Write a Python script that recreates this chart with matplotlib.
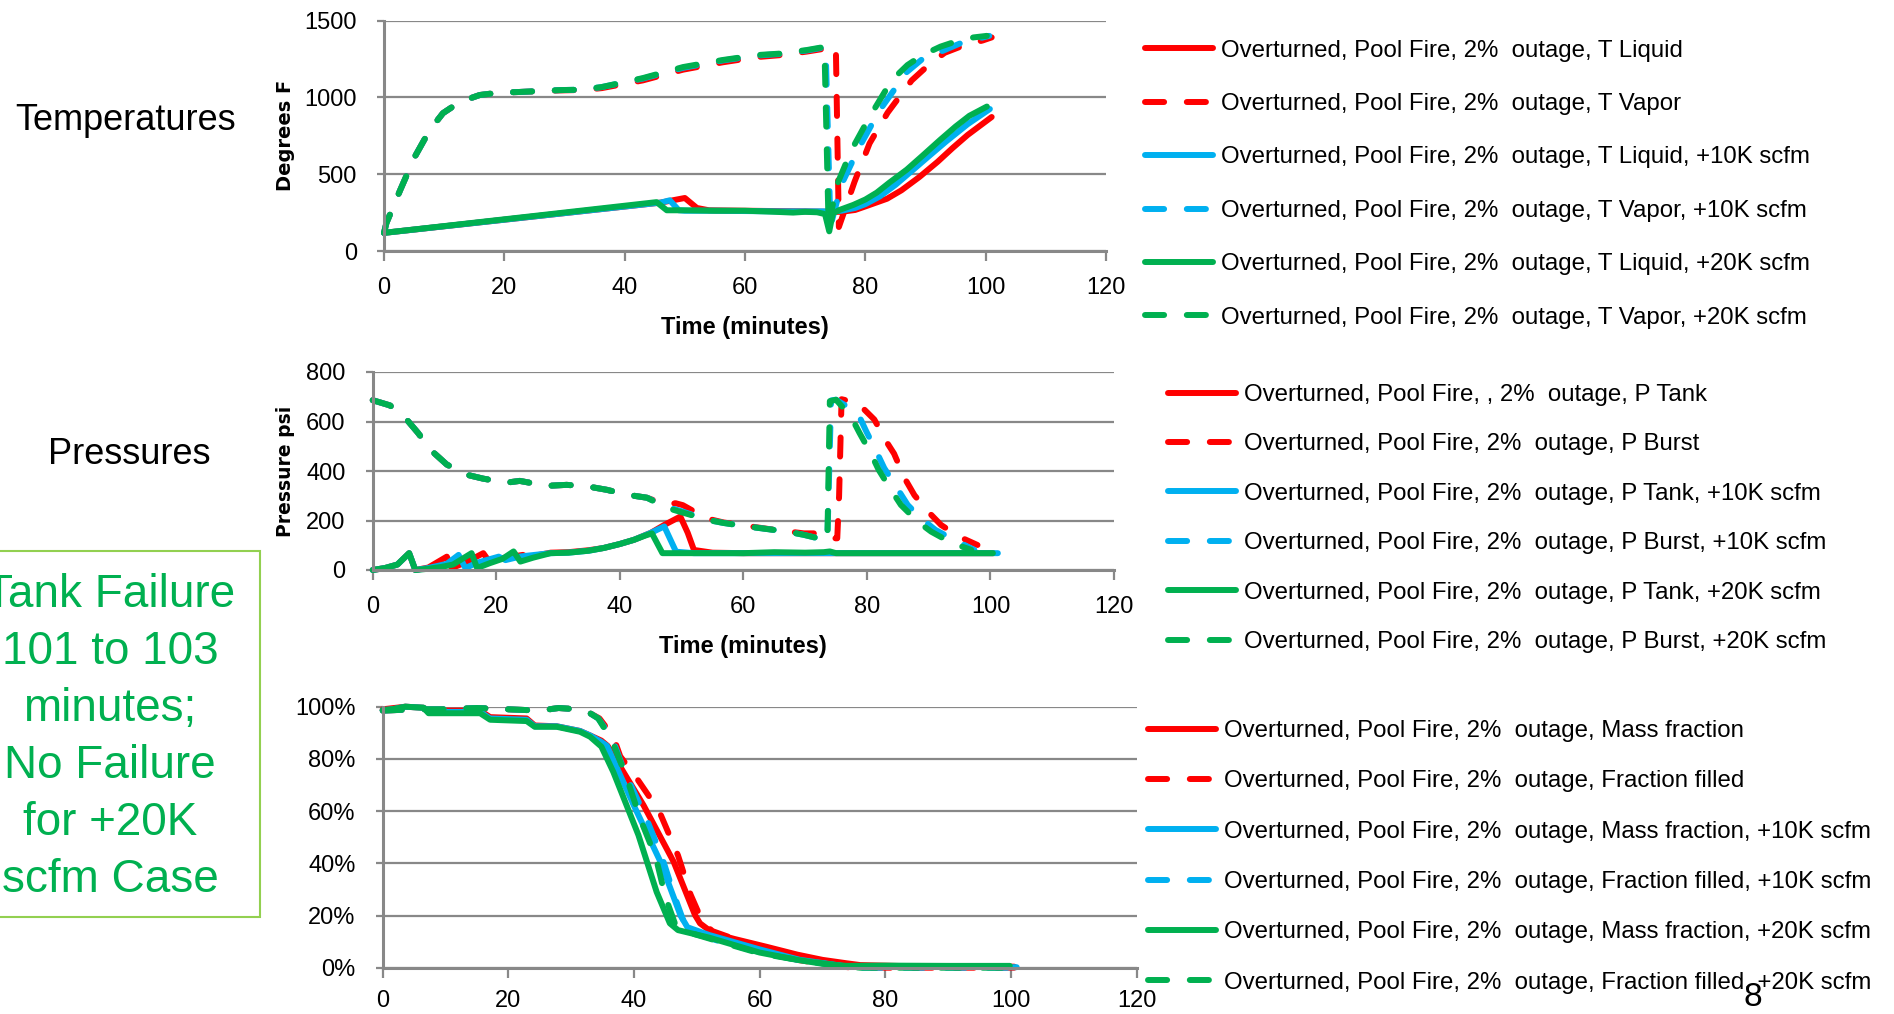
import matplotlib
matplotlib.use("Agg")
import matplotlib.pyplot as plt
from matplotlib.patches import Rectangle
from matplotlib.ticker import PercentFormatter

RED = "#FF0000"
BLUE = "#00B0F0"
GREEN = "#00B050"

# ---- temperatures (deg F) ----
t_tliq_red = [0, 46, 48, 50, 52, 54, 60, 65, 70, 74, 76, 78.3, 80, 83.6, 86, 89, 92, 94.5, 97, 101]
tliq_red = [118, 315, 330, 345, 280, 265, 262, 260, 258, 255, 255, 267, 290, 340, 395, 482, 580, 670, 755, 872]
t_tliq_blue = [0, 46, 47.5, 49, 50, 55, 60, 65, 70, 74, 76, 78.3, 80, 82.4, 85, 87.9, 90.5, 93.5, 97, 100.7]
tliq_blue = [118, 315, 330, 265, 262, 262, 260, 258, 258, 258, 262, 280, 305, 355, 430, 527, 615, 715, 825, 924]
t_tliq_green = [0, 45.3, 47, 50, 55, 60, 63, 65, 68, 70, 72, 73.3, 74, 74.6, 75.7, 78, 80, 81.9, 84, 86.9,
                89.5, 92.4, 95, 97.3, 100.2]
tliq_green = [118, 318, 265, 265, 262, 262, 258, 255, 250, 255, 252, 240, 128, 245, 267, 300, 335, 380, 445, 530,
              620, 722, 810, 880, 940]

t_tvap_red = [0, 0.4, 2.7, 5.1, 7.6, 9.8, 12.6, 15.9, 19, 22.6, 29.2, 33, 36.2, 43, 49.7, 56.3, 62, 66, 70.3, 73,
              75.1, 75.6, 78.2, 80.7, 83.7, 87.7, 90.5, 93.2, 96.5, 99.5, 101]
tvap_red = [118, 182, 397, 612, 787, 897, 970, 1015, 1030, 1035, 1045, 1048, 1060, 1110, 1180, 1228, 1262, 1275,
            1298, 1315, 1325, 156, 450, 700, 900, 1110, 1210, 1290, 1340, 1370, 1390]
t_tvap_blue = [0, 0.4, 2.7, 5.1, 7.6, 9.8, 12.6, 15.9, 19, 22.6, 29.2, 33, 36.2, 43, 49.7, 56.3, 62, 66, 70.3, 73.2,
               73.4, 74.2, 76, 79, 82.4, 86.9, 89.5, 92.4, 96, 100.6]
tvap_blue = [118, 182, 397, 612, 787, 897, 970, 1015, 1030, 1035, 1047, 1050, 1067, 1122, 1192, 1240, 1272, 1283,
             1305, 1325, 1320, 160, 430, 677, 917, 1165, 1250, 1295, 1355, 1400]
t_tvap_green = [0, 0.4, 2.7, 5.1, 7.6, 9.8, 12.6, 15.9, 19, 22.6, 29.2, 33, 36.2, 43, 49.7, 56.3, 62, 66, 70.3, 73.2,
                73.9, 74.3, 75.4, 77.7, 80.7, 84.4, 87, 89.5, 92.5, 95.7, 98, 100.2]
tvap_green = [118, 182, 397, 612, 787, 897, 970, 1015, 1030, 1035, 1047, 1050, 1067, 1125, 1197, 1243, 1275, 1285,
              1308, 1328, 150, 250, 442, 657, 872, 1112, 1210, 1275, 1330, 1372, 1390, 1400]

# ---- pressures (psi) ----
t_ptank_red = [0, 2, 4, 5.9, 6.9, 9, 12, 12.8, 15, 17.9, 18.7, 21, 24.3, 25, 28.8, 31.7, 35, 37.4, 40, 42.3, 45,
               47.2, 49.8, 51, 52, 55, 60, 70, 80, 90, 100.5]
ptank_red = [0, 8, 22, 68, 0, 10, 54, 8, 30, 68, 40, 48, 61, 52, 70, 72, 80, 89, 105, 122, 150, 182, 216, 150, 81,
             70, 68, 68, 68, 68, 68]
t_ptank_blue = [0, 2, 4, 5.9, 6.9, 9, 12, 13.9, 15, 17, 20.4, 21.5, 24, 28.8, 31.7, 35, 37.4, 40, 42.3, 45, 47.2,
                49.1, 52, 60, 70, 80, 90, 101.2]
ptank_blue = [0, 8, 22, 68, 0, 8, 25, 61, 8, 30, 54, 40, 55, 68, 70, 78, 89, 105, 122, 150, 176, 74, 68, 68, 68, 68,
              68, 68]
t_ptank_green = [0, 2, 4, 5.9, 6.9, 9, 11, 13, 16, 16.9, 19, 21, 22.8, 23.9, 26, 28.8, 31.7, 35, 37.4, 40, 42.3, 44,
                 45.2, 46.9, 50, 60, 65, 70, 73, 74, 75, 80, 90, 100.4]
ptank_green = [0, 8, 22, 68, 0, 5, 12, 22, 68, 8, 28, 45, 75, 34, 50, 68, 70, 78, 89, 105, 122, 138, 148, 68, 68, 68,
               72, 70, 72, 75, 68, 68, 68, 68]

t_pburst_red = [0, 2.8, 5.5, 7.3, 9.6, 12, 15.2, 17.9, 21.7, 23.8, 28.2, 31.4, 34.7, 37.9, 41.2, 44.4, 47.6, 49,
                50.2, 54.1, 56.8, 60.6, 64, 67.1, 69.8, 72, 73.7, 75.2, 75.5, 75.9, 78.5, 81.2, 83.3, 84.4, 86.1,
                87.7, 89.9, 92, 94.9, 97.9]
pburst_red = [686, 665, 608, 555, 480, 426, 385, 369, 353, 360, 340, 344, 338, 324, 304, 292, 262, 270, 262, 208,
              192, 178, 166, 156, 148, 148, 128, 128, 300, 690, 675, 608, 513, 470, 371, 302, 236, 182, 135, 101]
t_pburst_blue = [0, 2.8, 5.5, 7.3, 9.6, 12, 15.2, 17.9, 21.7, 23.8, 28.2, 31.4, 34.7, 37.9, 41.2, 44.4, 47.6, 50.2,
                 54.1, 56.8, 60.6, 64, 67.1, 69.8, 73.1, 73.6, 74.2, 75, 78.5, 79.9, 81.4, 82.8, 84.7, 86.6, 88.7,
                 91.1, 94.1, 97.4]
pburst_blue = [686, 665, 608, 555, 480, 426, 385, 369, 353, 360, 340, 344, 338, 324, 304, 292, 255, 236, 203, 190,
               176, 165, 155, 142, 122, 122, 685, 688, 635, 560, 486, 412, 338, 263, 210, 162, 122, 81]
t_pburst_green = [0, 2.8, 5.5, 7.3, 9.6, 12, 15.2, 17.9, 21.7, 23.8, 28.2, 31.4, 34.7, 37.9, 41.2, 44.4, 47.6, 50.2,
                  54.1, 56.8, 60.6, 64, 67.1, 69.8, 73.1, 73.6, 74.0, 75, 77.4, 78.8, 80.6, 81.9, 83.9, 85.5, 88.2,
                  90.4, 93.6, 96.9]
pburst_green = [686, 665, 608, 555, 480, 426, 385, 369, 353, 360, 340, 344, 338, 324, 304, 292, 251, 232, 203, 190,
                176, 165, 155, 142, 122, 122, 682, 688, 621, 554, 473, 405, 324, 263, 196, 155, 111, 81]

# ---- mass fraction / fraction filled ----
t_mass_red = [0, 3.6, 6.5, 7.3, 15.5, 17.1, 22.9, 24.2, 27.7, 31.4, 33, 34.8, 35.8, 41.5, 46.3, 49.7, 50.5, 52.6,
              56, 61.1, 66, 70, 73.8, 76, 85, 100.5]
mass_red = [0.99, 1.0, 0.996, 0.985, 0.985, 0.96, 0.955, 0.928, 0.925, 0.907, 0.89, 0.87, 0.85, 0.623, 0.406, 0.202,
            0.17, 0.132, 0.11, 0.08, 0.05, 0.03, 0.017, 0.01, 0.005, 0.004]
t_mass_blue = [0, 1.5, 3.6, 6.5, 7.3, 15.5, 17.1, 22.9, 24.2, 27.7, 31.4, 33, 34.8, 35.7, 40, 44.2, 47.4, 48.5, 52,
               60, 66.4, 73.8, 80, 90, 100.9]
mass_blue = [0.987, 0.99, 1.0, 0.996, 0.98, 0.98, 0.955, 0.95, 0.925, 0.925, 0.907, 0.89, 0.865, 0.85, 0.62, 0.406,
             0.20, 0.155, 0.125, 0.07, 0.03, 0.005, 0.004, 0.003, 0.002]
t_mass_green = [0, 1.5, 3.6, 6.5, 7.3, 15.5, 17.1, 22.9, 24.2, 27.7, 31.4, 33, 34.8, 36.7, 40.7, 43.6, 45.7, 47, 52,
                60, 66, 70, 73.8, 80, 90, 99.8]
mass_green = [0.987, 0.99, 1.0, 0.996, 0.975, 0.975, 0.95, 0.945, 0.923, 0.923, 0.904, 0.885, 0.847, 0.75, 0.508,
              0.29, 0.17, 0.144, 0.115, 0.058, 0.03, 0.015, 0.007, 0.008, 0.007, 0.007]

t_fill_red = [0, 5, 10, 15, 20, 25, 28, 31, 33, 34.5, 36.7, 37.8, 40.4, 44, 47, 49, 51, 52.5, 56, 60, 66, 70, 74, 80,
              90, 100.5]
fill_red = [0.985, 0.99, 0.99, 0.995, 0.99, 0.985, 0.995, 0.99, 0.975, 0.955, 0.885, 0.81, 0.727, 0.60, 0.43, 0.28,
            0.17, 0.14, 0.11, 0.07, 0.03, 0.015, 0.002, 0.0, 0.0, 0.0]
t_fill_blue = [0, 5, 10, 15, 20, 25, 28, 31, 33, 34.3, 36.5, 38.5, 42, 44.5, 46.5, 48, 50, 55, 60, 66, 72, 76, 90,
               100.9]
fill_blue = [0.985, 0.99, 0.99, 0.995, 0.99, 0.985, 0.995, 0.99, 0.975, 0.955, 0.88, 0.75, 0.57, 0.42, 0.27, 0.17,
             0.13, 0.09, 0.06, 0.03, 0.01, 0.0, 0.0, 0.0]
t_fill_green = [0, 5, 10, 15, 20, 25, 28, 31, 33, 34.3, 36.5, 38.8, 41, 43.5, 45, 46.5, 48, 55, 60, 66, 72, 76, 90,
                100]
fill_green = [0.985, 0.99, 0.99, 0.995, 0.99, 0.985, 0.995, 0.99, 0.975, 0.955, 0.87, 0.73, 0.57, 0.42, 0.27, 0.17,
              0.14, 0.09, 0.055, 0.03, 0.01, 0.0, 0.0, 0.0]

temp_labels = [
    "Overturned, Pool Fire, 2%  outage, T Liquid",
    "Overturned, Pool Fire, 2%  outage, T Vapor",
    "Overturned, Pool Fire, 2%  outage, T Liquid, +10K scfm",
    "Overturned, Pool Fire, 2%  outage, T Vapor, +10K scfm",
    "Overturned, Pool Fire, 2%  outage, T Liquid, +20K scfm",
    "Overturned, Pool Fire, 2%  outage, T Vapor, +20K scfm",
]
pres_labels = [
    "Overturned, Pool Fire, , 2%  outage, P Tank",
    "Overturned, Pool Fire, 2%  outage, P Burst",
    "Overturned, Pool Fire, 2%  outage, P Tank, +10K scfm",
    "Overturned, Pool Fire, 2%  outage, P Burst, +10K scfm",
    "Overturned, Pool Fire, 2%  outage, P Tank, +20K scfm",
    "Overturned, Pool Fire, 2%  outage, P Burst, +20K scfm",
]
frac_labels = [
    "Overturned, Pool Fire, 2%  outage, Mass fraction",
    "Overturned, Pool Fire, 2%  outage, Fraction filled",
    "Overturned, Pool Fire, 2%  outage, Mass fraction, +10K scfm",
    "Overturned, Pool Fire, 2%  outage, Fraction filled, +10K scfm",
    "Overturned, Pool Fire, 2%  outage, Mass fraction, +20K scfm",
    "Overturned, Pool Fire, 2%  outage, Fraction filled, +20K scfm",
]

plt.rcParams["font.family"] = ["Liberation Sans", "DejaVu Sans"]
plt.rcParams["font.size"] = 18
plt.rcParams["lines.dash_capstyle"] = "round"
plt.rcParams["lines.solid_capstyle"] = "round"

LW = 4.3
DASH = (0, (3.2, 3.8))
GRID = "#888888"
LEG_FS = 17.3

fig = plt.figure(figsize=(18.94, 10.14), dpi=100)
W, H = 1894.0, 1014.0


def make_axes(left, top, right, bottom):
    return fig.add_axes([left / W, 1 - bottom / H, (right - left) / W, (bottom - top) / H])


def style(ax, ymax, ystep, xpad=11.5):
    ax.set_xlim(0, 120)
    ax.set_ylim(0, ymax)
    ax.set_xticks(range(0, 121, 20))
    ax.set_yticks([i * ystep for i in range(int(round(ymax / ystep)) + 1)])
    ax.grid(axis="y", color=GRID, lw=1.6)
    ax.set_axisbelow(True)
    for s in ["top", "right"]:
        ax.spines[s].set_visible(False)
    for s in ["left", "bottom"]:
        ax.spines[s].set_color(GRID)
        ax.spines[s].set_linewidth(2.2)
    ax.tick_params(axis="x", direction="out", length=7, width=1.6, color=GRID, pad=xpad, labelsize=17)
    ax.tick_params(axis="y", direction="out", length=5, width=1.6, color=GRID, pad=14.5, labelsize=17)


def plot_set(ax, series):
    handles = []
    for t, v, c, ls in series:
        ln, = ax.plot(t, v, color=c, lw=LW, ls=ls, clip_on=False)
        handles.append(ln)
    return handles


def add_legend(ax, handles, labels, x, y, spacing):
    ax.legend(handles, labels, loc="upper left", bbox_to_anchor=(x / W, 1 - y / H),
              bbox_transform=fig.transFigure, frameon=False, fontsize=LEG_FS,
              handlelength=2.85, handletextpad=0.3, labelspacing=spacing,
              borderpad=0, borderaxespad=0)


# temperatures
ax1 = make_axes(384, 20.5, 1106, 251)
h1 = plot_set(ax1, [
    (t_tliq_red, tliq_red, RED, "-"), (t_tvap_red, tvap_red, RED, DASH),
    (t_tliq_blue, tliq_blue, BLUE, "-"), (t_tvap_blue, tvap_blue, BLUE, DASH),
    (t_tliq_green, tliq_green, GREEN, "-"), (t_tvap_green, tvap_green, GREEN, DASH),
])
style(ax1, 1500, 500)
ax1.set_xlabel("Time (minutes)", fontsize=17, fontweight="bold")
ax1.set_ylabel("Degrees F", fontsize=14, fontweight="bold", family="DejaVu Sans")
ax1.xaxis.set_label_coords(0.5, -0.28)
ax1.yaxis.set_label_coords(-0.123, 0.5)
add_legend(ax1, h1, temp_labels, 1145, 39.5, 1.31)

# pressures
ax2 = make_axes(372.7, 372, 1114, 570)
h2 = plot_set(ax2, [
    (t_ptank_red, ptank_red, RED, "-"), (t_pburst_red, pburst_red, RED, DASH),
    (t_ptank_blue, ptank_blue, BLUE, "-"), (t_pburst_blue, pburst_blue, BLUE, DASH),
    (t_ptank_green, ptank_green, GREEN, "-"), (t_pburst_green, pburst_green, GREEN, DASH),
])
style(ax2, 800, 200)
ax2.set_xlabel("Time (minutes)", fontsize=17, fontweight="bold")
ax2.set_ylabel("Pressure psi", fontsize=13.5, fontweight="bold", family="DejaVu Sans")
ax2.xaxis.set_label_coords(0.5, -0.33)
ax2.yaxis.set_label_coords(-0.105, 0.5)
add_legend(ax2, h2, pres_labels, 1168, 384, 1.14)

# fractions
ax3 = make_axes(382.7, 706.7, 1136.7, 967.7)
h3 = plot_set(ax3, [
    (t_mass_red, mass_red, RED, "-"), (t_fill_red, fill_red, RED, DASH),
    (t_mass_blue, mass_blue, BLUE, "-"), (t_fill_blue, fill_blue, BLUE, DASH),
    (t_mass_green, mass_green, GREEN, "-"), (t_fill_green, fill_green, GREEN, DASH),
])
style(ax3, 1.0, 0.2, xpad=9)
ax3.yaxis.set_major_formatter(PercentFormatter(xmax=1, decimals=0))
add_legend(ax3, h3, frac_labels, 1148, 720, 1.18)

# slide side text
fig.text(126 / W, 1 - 121 / H, "Temperatures", family="Liberation Sans", fontsize=26,
         ha="center", va="center")
fig.text(129 / W, 1 - 455 / H, "Pressures", family="Liberation Sans", fontsize=26,
         ha="center", va="center")
fig.patches.append(Rectangle((-10 / W, 1 - 917 / H), 270 / W, 366 / H, transform=fig.transFigure,
                             fill=False, edgecolor="#92D050", lw=1.5))
fig.text(110 / W, 1 - 737.6 / H, "Tank Failure\n101 to 103\nminutes;\nNo Failure\nfor +20K\nscfm Case",
         family="Liberation Sans", fontsize=33, color=GREEN, ha="center", va="center",
         linespacing=1.385, multialignment="center")
fig.text(1753 / W, 1 - 997 / H, "8", family="Liberation Sans", fontsize=24, ha="center", va="center")

fig.savefig("out.png", dpi=100)
